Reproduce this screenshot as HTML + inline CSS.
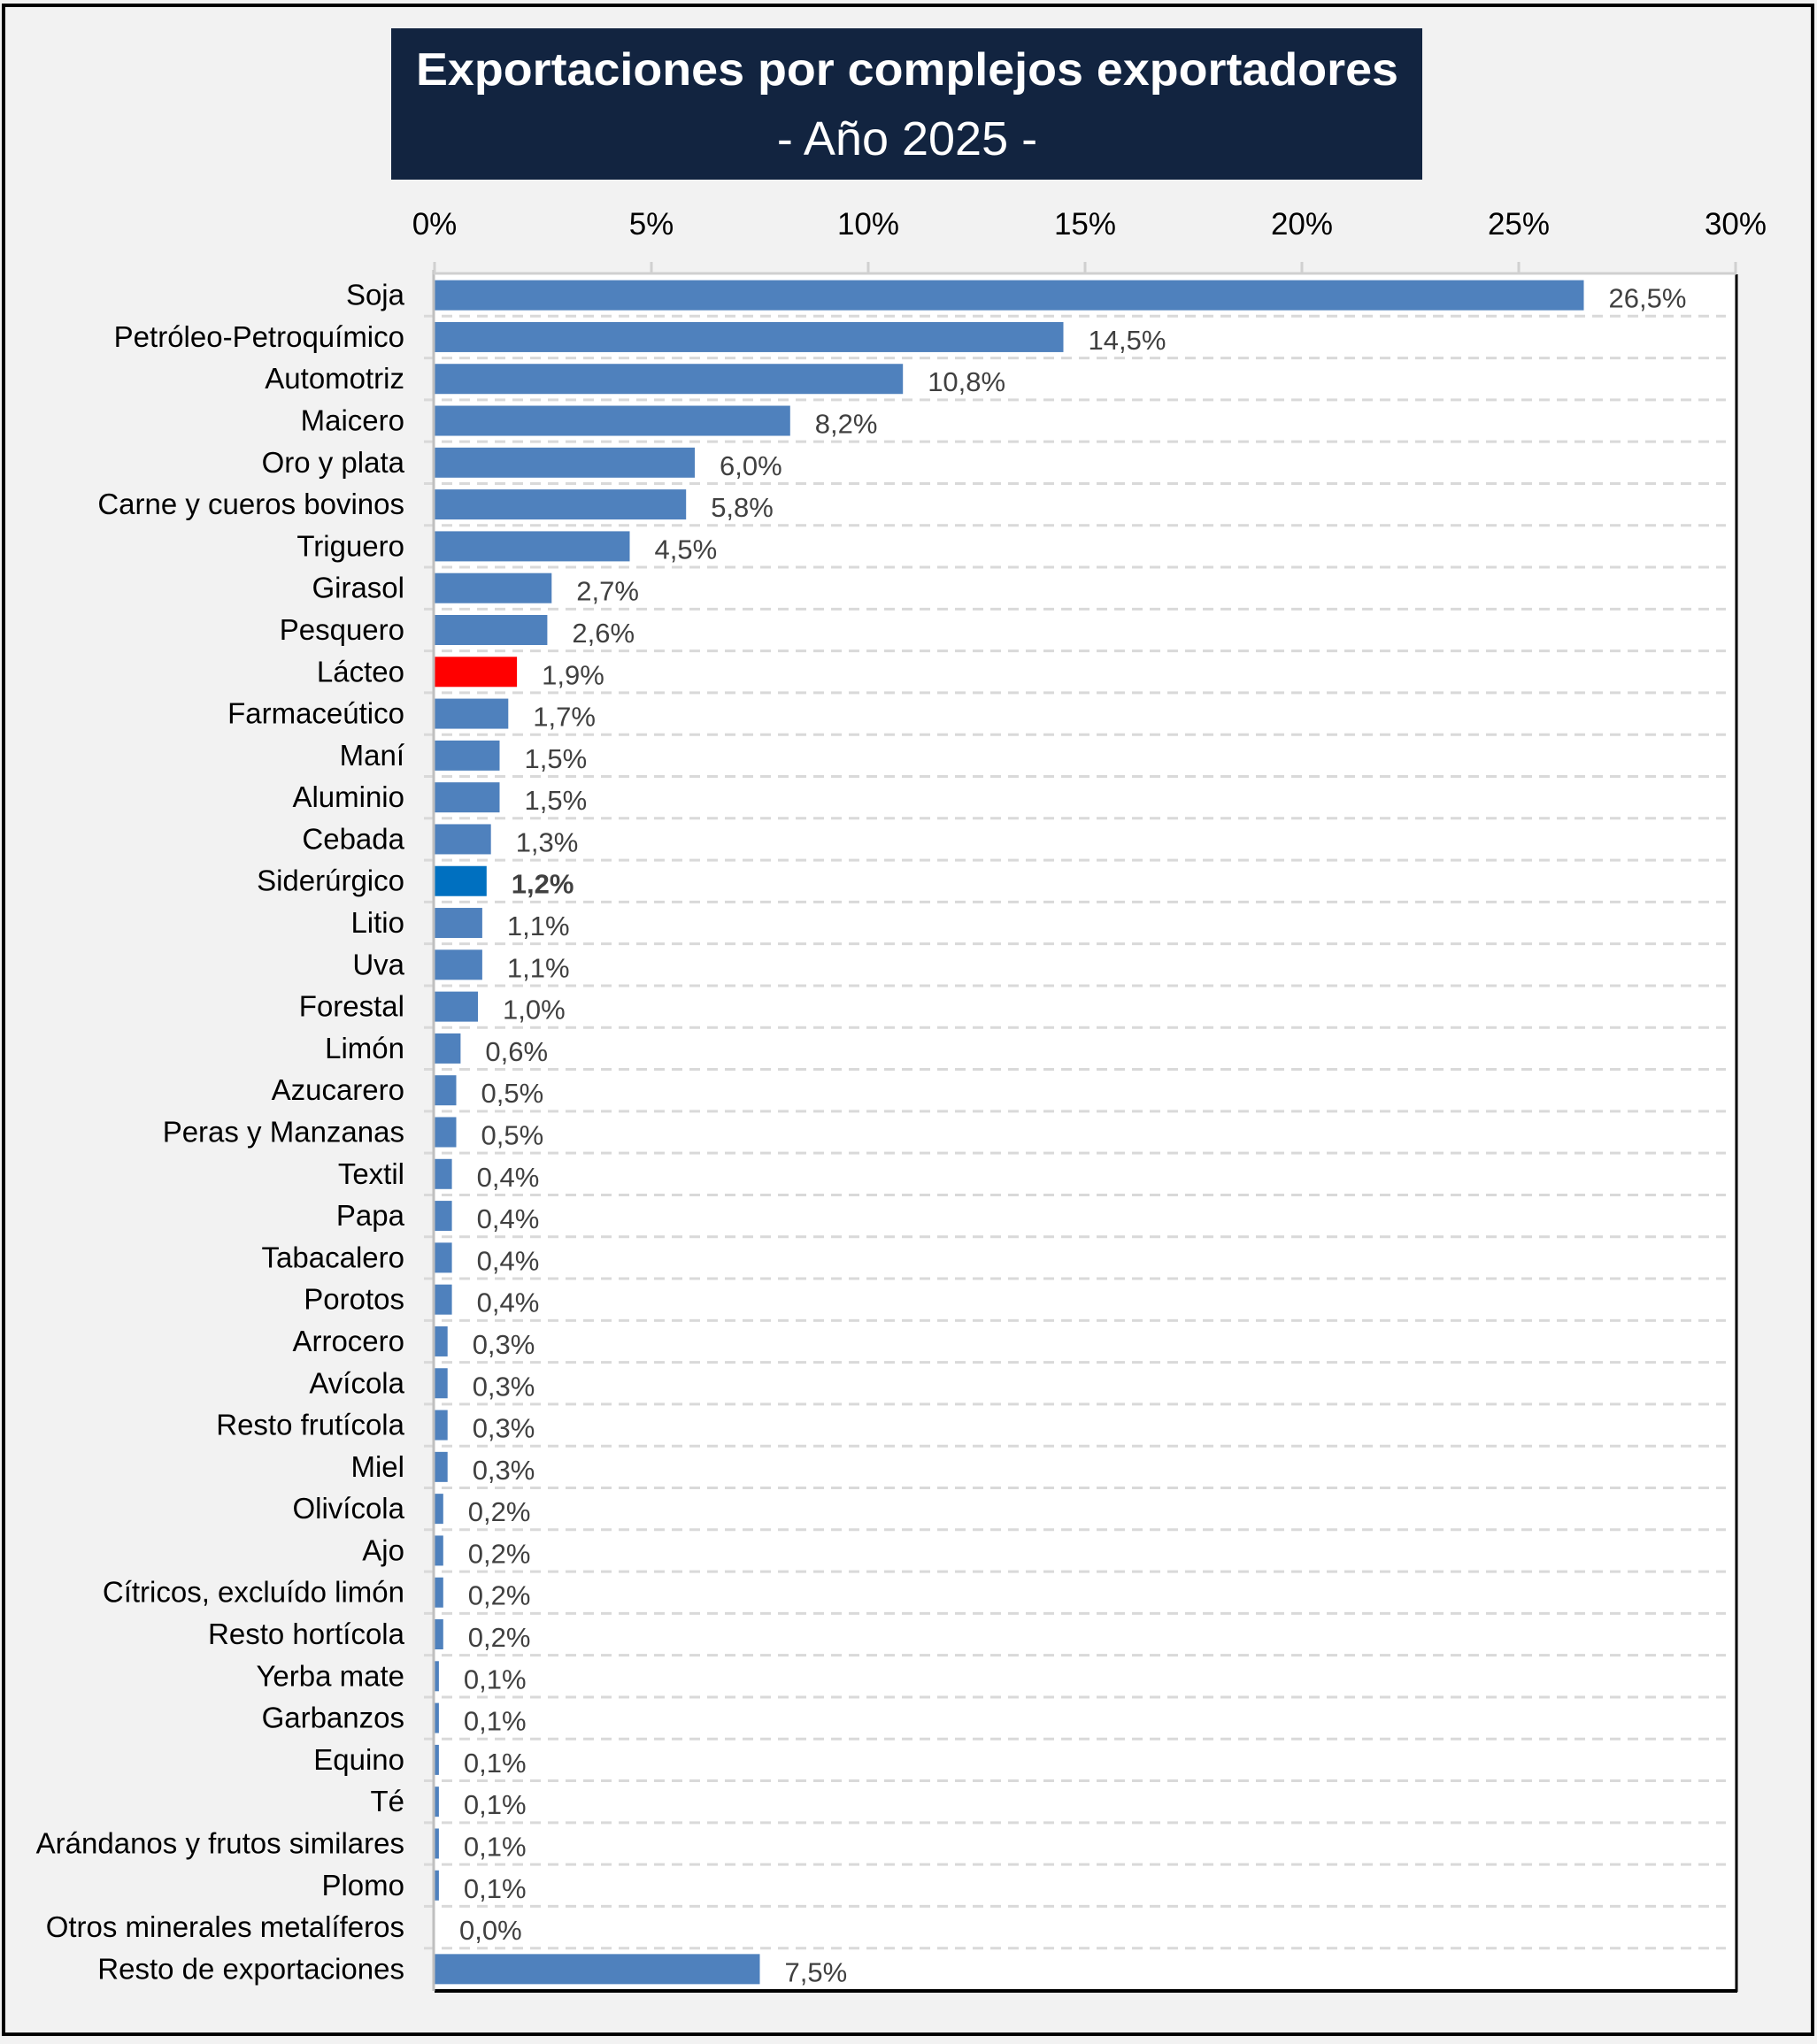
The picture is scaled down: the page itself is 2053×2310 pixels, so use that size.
<!DOCTYPE html>
<html><head><meta charset="utf-8">
<style>
html,body{margin:0;padding:0;background:#F2F2F2;}
svg{display:block;font-family:"Liberation Sans",sans-serif;}
</style></head>
<body>
<svg id="chart" width="2053" height="2310" viewBox="0 0 2053 2310" xmlns="http://www.w3.org/2000/svg">
<rect x="0" y="0" width="2053" height="2310" fill="#F2F2F2"/>
<rect x="4" y="6" width="2044" height="2293" fill="none" stroke="#000" stroke-width="4"/>
<rect x="442" y="32" width="1165" height="171" fill="#122440"/>
<text x="1025" y="96" text-anchor="middle" fill="#fff" font-size="52" font-weight="bold" textLength="1110" lengthAdjust="spacingAndGlyphs">Exportaciones por complejos exportadores</text>
<text x="1025" y="175" text-anchor="middle" fill="#fff" font-size="54">- Año 2025 -</text>
<rect x="491" y="310" width="1470" height="1939" fill="#fff"/>
<g id="grid"></g>
<g id="bars"></g>
<g id="labels"></g>
<line x1="1962" y1="310" x2="1962" y2="2251" stroke="#000" stroke-width="3"/>
<line x1="491" y1="2250" x2="1963" y2="2250" stroke="#000" stroke-width="4"/>
<line x1="490" y1="305" x2="490" y2="2250" stroke="#BFBFBF" stroke-width="3"/>
<line x1="490" y1="309" x2="1962" y2="309" stroke="#D0D0D0" stroke-width="3"/>
<g id="xaxis"></g>
</svg>
<script>
const categories=["Soja","Petróleo-Petroquímico","Automotriz","Maicero","Oro y plata","Carne y cueros bovinos","Triguero","Girasol","Pesquero","Lácteo","Farmaceútico","Maní","Aluminio","Cebada","Siderúrgico","Litio","Uva","Forestal","Limón","Azucarero","Peras y Manzanas","Textil","Papa","Tabacalero","Porotos","Arrocero","Avícola","Resto frutícola","Miel","Olivícola","Ajo","Cítricos, excluído limón","Resto hortícola","Yerba mate","Garbanzos","Equino","Té","Arándanos y frutos similares","Plomo","Otros minerales metalíferos","Resto de exportaciones"];
const values=[26.5,14.5,10.8,8.2,6.0,5.8,4.5,2.7,2.6,1.9,1.7,1.5,1.5,1.3,1.2,1.1,1.1,1.0,0.6,0.5,0.5,0.4,0.4,0.4,0.4,0.3,0.3,0.3,0.3,0.2,0.2,0.2,0.2,0.1,0.1,0.1,0.1,0.1,0.1,0.0,7.5];
const tickValues=[0,5,10,15,20,25,30];
const tickLabels=["0%","5%","10%","15%","20%","25%","30%"];
const NS="http://www.w3.org/2000/svg";
const X0=491,X1=1961,Y0=310,Y1=2249,MAX=30;
const n=categories.length, rowH=(Y1-Y0)/n;
function xs(v){return X0+(v/MAX)*(X1-X0);}
function yc(i){return Y0+rowH*(i+0.5);}
function mk(tag,attrs,parent){const e=document.createElementNS(NS,tag);for(const k in attrs)e.setAttribute(k,attrs[k]);parent.appendChild(e);return e;}
const grid=document.getElementById('grid'),bars=document.getElementById('bars'),labels=document.getElementById('labels'),xaxis=document.getElementById('xaxis');
for(let i=1;i<n;i++){
  const y=Y0+rowH*i;
  const l=mk('line',{x1:479,y1:y,x2:1950,y2:y,stroke:'#D9D9D9','stroke-width':3,'stroke-dasharray':'12,8'},grid);
  
  
}
tickValues.forEach((t,i)=>{
  const x=xs(t);
  const tk=mk('line',{x1:x,y1:296,x2:x,y2:310,stroke:'#D0D0D0','stroke-width':3},xaxis);
  
  
  const tx=mk('text',{x:x,y:265,'text-anchor':'middle','font-size':35,fill:'#000'},xaxis);
  
  
  tx.textContent=tickLabels[i];
});
categories.forEach((c,i)=>{
  const v=values[i];const y=yc(i);const bh=34;
  let col='#4F81BD';
  if(c==='Lácteo')col='#FF0000';
  if(c==='Siderúrgico')col='#0070C0';
  const w=Math.max(xs(v)-X0,v>0?1.5:0);
  const r=mk('rect',{x:X0,y:y-bh/2,width:w,height:bh,fill:col},bars);
  
  
  const cl=mk('text',{x:457,y:y+11,'text-anchor':'end','font-size':33,fill:'#000'},labels);
  
  
  cl.textContent=c;
  const vl=mk('text',{x:X0+w+28,y:y+14,'font-size':31,fill:'#404040','font-weight':c==='Siderúrgico'?'bold':'normal'},labels);
  
  
  vl.textContent=v.toFixed(1).replace('.',',')+'%';
});
</script>
</body></html>
